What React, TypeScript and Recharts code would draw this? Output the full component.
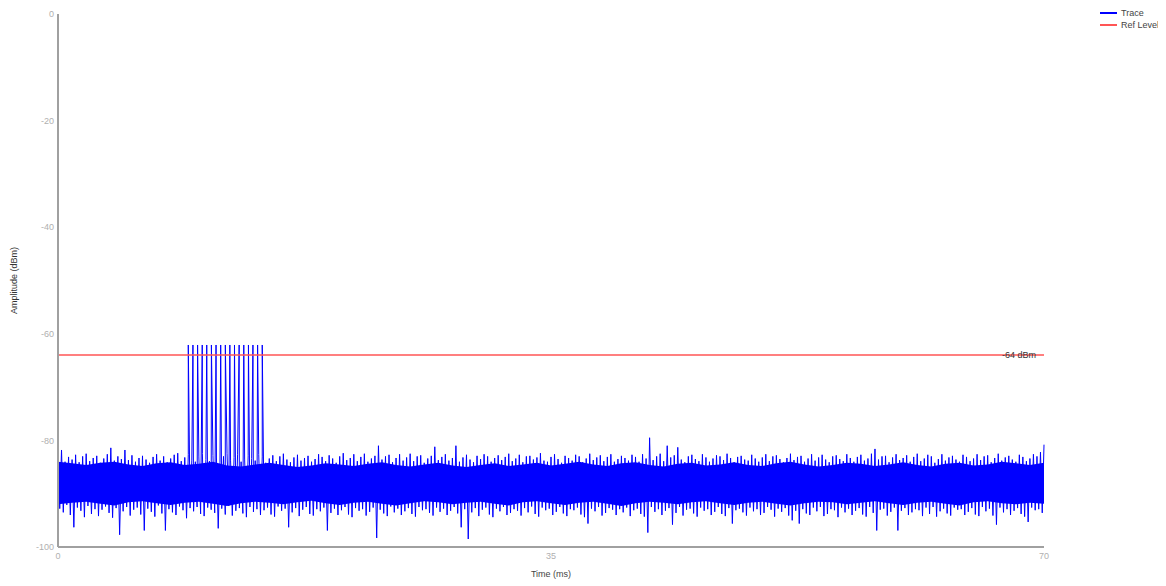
import React from "react";
import { ComposedChart, Line, Area, XAxis, YAxis, ReferenceLine, Legend } from "recharts";

// ---- data ----
const STEP = 0.25; // ms between successive upper peaks (troughs sit half a step later)

// upper peaks of the noisy trace (dBm), t = i * STEP
const tracePeaks = [
  -83.2, -81.8, -84.0, -83.1, -83.6, -82.7, -84.1, -83.0, -82.5, -83.9, -83.3, -82.9, -84.2, -83.4, -82.6, -81.4, -83.8, -83.0, -83.5, -81.8,
  -83.7, -82.8, -84.0, -83.3, -82.9, -83.6, -84.2, -83.1, -82.6, -83.8, -83.0, -84.1, -83.4, -82.7, -82.4, -83.9, -83.2, -82.6, -83.7, -84.0,
  -83.1, -82.5, -83.6, -83.9, -82.8, -83.3, -84.1, -83.0, -82.4, -83.7, -83.2, -82.7, -84.0, -83.5, -82.9, -83.4, -83.8, -82.6, -83.1, -84.2,
  -83.4, -82.8, -83.9, -83.0, -82.5, -83.6, -84.1, -83.2, -82.7, -83.8, -83.3, -82.9, -84.0, -83.5, -82.6, -83.1, -83.9, -82.8, -83.4, -84.2,
  -83.0, -82.4, -83.7, -83.3, -82.6, -83.9, -83.1, -82.5, -84.0, -83.4, -82.9, -81.0, -83.6, -83.0, -82.7, -84.1, -83.3, -82.6, -83.8, -83.2,
  -82.5, -83.9, -83.0, -82.8, -84.2, -83.4, -82.9, -81.2, -83.7, -83.1, -82.6, -83.8, -83.3, -81.0, -84.0, -83.2, -82.7, -83.6, -84.1, -82.9,
  -83.5, -82.6, -83.0, -84.0, -83.3, -82.8, -83.7, -83.1, -82.5, -83.9, -83.4, -82.7, -84.1, -83.0, -82.9, -83.6, -83.2, -82.4, -83.8, -84.0,
  -83.1, -82.6, -83.5, -84.2, -82.9, -83.3, -83.8, -82.7, -83.0, -84.1, -83.4, -82.5, -83.7, -83.2, -82.8, -83.9, -83.1, -82.6, -84.0, -83.5,
  -82.9, -83.3, -83.8, -82.7, -83.1, -84.0, -82.6, -83.4, -79.5, -83.7, -83.0, -82.5, -83.9, -81.0, -83.2, -82.8, -81.3, -83.6, -84.1, -83.0,
  -82.7, -83.5, -83.9, -82.6, -83.2, -84.0, -83.4, -82.8, -83.0, -83.7, -82.5, -83.3, -84.1, -83.1, -82.9, -83.6, -83.8, -82.7, -83.4, -84.0,
  -83.2, -82.6, -83.9, -83.0, -82.8, -83.5, -84.1, -83.3, -82.5, -83.7, -83.1, -82.9, -84.0, -83.4, -82.6, -83.8, -83.2, -82.7, -83.6, -84.1,
  -83.0, -82.8, -83.5, -83.9, -82.6, -83.3, -84.0, -83.1, -82.7, -83.8, -83.4, -82.5, -81.6, -83.6, -83.0, -82.9, -84.1, -83.2, -82.6, -83.7,
  -83.3, -82.8, -84.0, -83.1, -82.5, -83.9, -83.4, -82.7, -83.0, -84.2, -83.5, -82.6, -83.8, -83.2, -82.9, -83.6, -84.0, -82.7, -83.1, -83.9,
  -83.4, -82.6, -83.7, -83.0, -82.8, -84.1, -83.3, -82.5, -83.8, -83.2, -82.9, -83.6, -84.0, -82.7, -83.1, -83.9, -83.4, -82.6, -83.0, -82.2,
  -80.8,
];

// lower troughs of the noisy trace (dBm), t = i * STEP + STEP / 2
const traceTroughs = [
  -92.8, -93.5, -92.1, -94.0, -96.3, -92.6, -93.2, -94.4, -92.3, -93.8, -92.9, -94.2, -93.0, -92.4, -93.6, -94.5, -92.7, -97.7, -93.3, -92.5,
  -94.1, -93.0, -92.6, -93.9, -96.9, -92.8, -93.4, -94.3, -92.2, -93.7, -96.9, -92.9, -93.5, -94.0, -92.4, -93.1, -94.6, -92.7, -93.3, -92.5,
  -93.8, -94.2, -92.6, -93.0, -93.6, -96.5, -92.8, -93.9, -92.3, -94.1, -93.2, -92.7, -93.7, -94.4, -92.5, -93.4, -92.9, -94.0, -93.1, -92.6,
  -93.9, -94.3, -92.4, -93.2, -92.8, -96.3, -93.5, -92.7, -94.2, -93.0, -92.5, -93.8, -94.1, -92.9, -93.3, -92.6, -96.9, -93.6, -92.8, -94.0,
  -93.1, -92.5, -93.9, -94.4, -92.7, -93.2, -92.9, -94.1, -93.4, -92.6, -98.3, -93.0, -93.7, -94.2, -92.4, -93.5, -92.8, -94.0, -93.3, -92.7,
  -93.8, -94.3, -92.5, -93.1, -92.9, -93.6, -94.1, -92.6, -93.4, -92.8, -94.0, -93.2, -92.5, -93.7, -96.3, -92.9, -98.5, -93.5, -92.7, -94.2,
  -93.0, -92.6, -93.9, -94.4, -92.8, -93.3, -92.5, -94.0, -93.6, -92.9, -93.2, -94.1, -92.7, -93.5, -92.4, -93.8, -94.3, -92.6, -93.1, -92.8,
  -94.0, -93.4, -92.5, -93.7, -94.2, -92.9, -93.1, -92.6, -93.9, -94.4, -95.6, -92.8, -93.3, -92.5, -94.1, -93.6, -92.7, -93.0, -94.0, -92.9,
  -93.5, -92.6, -94.2, -93.1, -92.8, -93.8, -94.3, -97.3, -92.5, -93.4, -92.9, -94.0, -93.2, -92.7, -95.8, -93.6, -92.5, -94.1, -93.0, -92.8,
  -93.7, -94.3, -92.6, -93.2, -92.9, -94.0, -93.4, -92.5, -93.8, -94.2, -92.7, -95.6, -93.1, -92.8, -93.5, -94.1, -92.6, -93.3, -92.9, -94.0,
  -93.6, -92.5, -93.0, -94.3, -92.8, -93.4, -92.7, -94.1, -95.0, -93.2, -95.6, -92.9, -93.7, -94.0, -92.6, -93.3, -92.5, -94.2, -93.8, -92.9,
  -93.1, -94.4, -92.6, -93.5, -92.8, -94.0, -93.2, -92.7, -93.9, -94.3, -92.5, -93.6, -96.9, -93.0, -92.8, -94.1, -93.4, -92.6, -96.9, -93.2,
  -92.7, -94.0, -93.5, -92.9, -93.1, -94.2, -92.6, -93.8, -92.5, -94.3, -93.3, -92.8, -93.7, -94.1, -92.6, -93.0, -92.9, -94.0, -93.4, -92.7,
  -93.9, -94.2, -92.5, -93.3, -92.8, -94.1, -95.8, -92.6, -93.5, -92.9, -94.0, -93.2, -92.7, -93.8, -94.3, -95.3, -92.6, -93.1, -92.9, -93.6,
];

// solid core of the noise band (dBm), read every 1 ms (t = 0..70)
const coreTop = [
  -84.0, -84.3, -84.6, -84.2, -84.0, -84.5, -84.8, -84.3, -84.1, -84.6,
  -84.4, -84.0, -84.7, -84.9, -84.5, -84.2, -84.6, -85.0, -84.7, -84.3,
  -84.5, -84.8, -84.4, -84.1, -84.6, -84.9, -84.5, -84.2, -84.7, -85.0,
  -84.6, -84.3, -84.8, -84.5, -84.2, -84.7, -84.4, -84.0, -84.5, -84.8,
  -84.3, -84.1, -84.6, -84.9, -84.4, -84.2, -84.7, -84.5, -84.1, -84.6,
  -84.8, -84.3, -84.0, -84.5, -84.9, -84.6, -84.2, -84.4, -84.8, -84.5,
  -84.1, -84.6, -84.9, -84.4, -84.2, -84.7, -84.5, -84.0, -84.3, -84.6,
  -84.2,
];
const coreBottom = [
  -92.0, -91.7, -91.5, -91.9, -92.2, -91.6, -91.4, -91.8, -92.1, -91.7,
  -91.5, -91.9, -92.3, -91.8, -91.5, -91.7, -92.0, -91.6, -91.3, -91.8,
  -92.1, -91.7, -91.5, -91.9, -92.2, -91.8, -91.4, -91.6, -92.0, -91.7,
  -91.5, -91.9, -92.2, -91.6, -91.4, -91.8, -92.1, -91.7, -91.5, -91.9,
  -92.3, -91.8, -91.5, -91.7, -92.0, -91.6, -91.4, -91.8, -92.1, -91.7,
  -91.5, -91.9, -92.2, -91.8, -91.5, -91.6, -92.0, -91.7, -91.4, -91.8,
  -92.1, -91.7, -91.5, -91.9, -92.2, -91.6, -91.4, -91.8, -92.0, -91.7,
  -91.9,
];

// burst of pulses (ms) and their peak level (dBm)
const pulseTimes = [9.25, 9.58, 9.91, 10.24, 10.56, 10.89, 11.22, 11.55, 11.88, 12.2, 12.53, 12.86, 13.19, 13.52, 13.84, 14.17, 14.5];
const pulseLevel = -62.1;

const refLevel = -64;
const refLabel = "-64 dBm";

const xTicks = [0, 35, 70];
const yTicks = [-100, -80, -60, -40, -20, 0];

const legendLabels = ["Trace", "Ref Level"];
const TRACE_COLOR = "#0000ff";
const REF_COLOR = "#ff5555";
const legendColors = [TRACE_COLOR, REF_COLOR];

// ---- build tables for the library ----
type Pt = { t: number; v: number };
const traceData: Pt[] = [];
tracePeaks.forEach((v, i) => traceData.push({ t: i * STEP, v }));
traceTroughs.forEach((v, i) => traceData.push({ t: i * STEP + STEP / 2, v }));
pulseTimes.forEach((t) => traceData.push({ t, v: pulseLevel }));
traceData.sort((a, b) => a.t - b.t);

const coreData = coreTop.map((top, i) => ({ t: i, range: [coreBottom[i], top] }));

const FONT = "'Liberation Sans', Arial, sans-serif";

const YTitle = (props: any) => {
  const vb = props.viewBox || { x: 0, y: 0, width: 0, height: 0 };
  const cx = vb.x + 6;
  const cy = vb.y + vb.height / 2;
  return (
    <text
      x={cx}
      y={cy}
      transform={`rotate(-90, ${cx}, ${cy})`}
      textAnchor="middle"
      dominantBaseline="central"
      fontSize={9}
      fill="#333"
      fontFamily={FONT}
    >
      Amplitude (dBm)
    </text>
  );
};

const LegendContent = () => (
  <div style={{ fontFamily: FONT, fontSize: 9, color: "#444", lineHeight: "12px", whiteSpace: "nowrap" }}>
    {legendLabels.map((label, i) => (
      <div key={label} style={{ display: "flex", alignItems: "center" }}>
        <span
          style={{
            display: "inline-block",
            width: 17,
            height: 0,
            borderTop: `2px solid ${legendColors[i]}`,
            marginRight: 4,
          }}
        />
        <span>{label}</span>
      </div>
    ))}
  </div>
);

export default function App() {
  return (
    <ComposedChart
      width={1150}
      height={578}
      data={traceData}
      margin={{ top: 6, right: 114, bottom: 9, left: 0 }}
      style={{ fontFamily: FONT }}
    >
      <XAxis
        dataKey="t"
        type="number"
        domain={[0, 70]}
        ticks={xTicks}
        interval={0}
        tickLine={false}
        tickSize={0}
        tickMargin={6}
        height={30}
        axisLine={{ stroke: "#a0a0a0", strokeWidth: 2 }}
        tick={{ fill: "#b0b0b0", fontSize: 9 }}
        label={{ value: "Time (ms)", position: "insideBottom", offset: 0, fill: "#444", fontSize: 9 }}
      />
      <YAxis
        type="number"
        domain={[-100, 0]}
        ticks={yTicks}
        interval={0}
        width={50}
        tickLine={false}
        tickSize={0}
        tickMargin={4}
        axisLine={{ stroke: "#a0a0a0", strokeWidth: 2 }}
        tick={{ fill: "#b0b0b0", fontSize: 9 }}
        label={<YTitle />}
      />
      <Legend
        layout="vertical"
        align="center"
        verticalAlign="middle"
        content={<LegendContent />}
        wrapperStyle={{ position: "absolute", top: -1, left: 1092, width: 80, height: 26 }}
      />
      <Area
        data={coreData}
        dataKey="range"
        type="linear"
        stroke="none"
        fill={TRACE_COLOR}
        fillOpacity={1}
        legendType="none"
        activeDot={false}
        isAnimationActive={false}
      />
      <Line
        dataKey="v"
        name="Trace"
        type="linear"
        stroke={TRACE_COLOR}
        strokeWidth={1}
        dot={false}
        activeDot={false}
        isAnimationActive={false}
      />
      <ReferenceLine
        y={refLevel}
        stroke={REF_COLOR}
        strokeWidth={1.5}
        label={{ value: refLabel, position: "insideRight", offset: 8, fill: "#333", fontSize: 9 }}
      />
    </ComposedChart>
  );
}
